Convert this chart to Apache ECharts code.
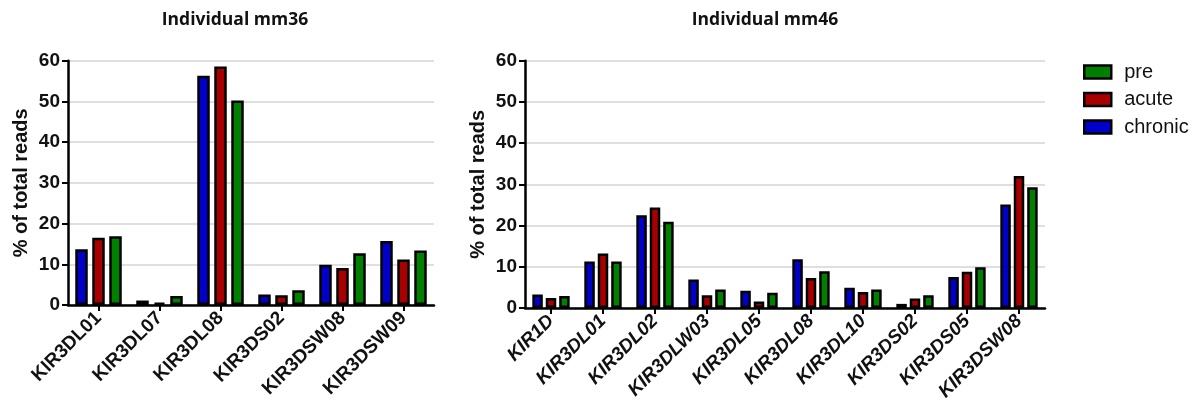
<!DOCTYPE html>
<html>
<head>
<meta charset="utf-8">
<script src="https://cdn.jsdelivr.net/npm/echarts@6/dist/echarts.min.js"></script>
<style>
html,body{margin:0;padding:0;background:#fff;}
#chart{width:1200px;height:405px;}
</style>
</head>
<body>
<div id="chart"></div>
<script>
// ---- data ----
const titleLeft = 'Individual mm36';
const titleRight = 'Individual mm46';
const seriesNames = ['chronic', 'acute', 'pre'];
const legendOrder = ['pre', 'acute', 'chronic'];
const yTicks = [0, 10, 20, 30, 40, 50, 60];

const catsLeft = ['KIR3DL01', 'KIR3DL07', 'KIR3DL08', 'KIR3DS02', 'KIR3DSW08', 'KIR3DSW09'];
const chronicLeft = [13.7, 1.1, 56.3, 2.6, 9.9, 15.7];
const acuteLeft   = [16.5, 0.6, 58.6, 2.4, 9.1, 11.2];
const preLeft     = [16.9, 2.2, 50.2, 3.6, 12.7, 13.4];

const catsRight = ['KIR1D', 'KIR3DL01', 'KIR3DL02', 'KIR3DLW03', 'KIR3DL05', 'KIR3DL08', 'KIR3DL10', 'KIR3DS02', 'KIR3DS05', 'KIR3DSW08'];
const chronicRight = [3.3, 11.3, 22.5, 6.9, 4.2, 11.8, 4.9, 1.0, 7.5, 25.1];
const acuteRight   = [2.4, 13.2, 24.4, 3.1, 1.6, 7.3, 3.9, 2.3, 8.8, 32.0];
const preRight     = [2.9, 11.3, 20.9, 4.5, 3.7, 8.9, 4.5, 3.1, 9.9, 29.3];

// ---- styles ----
const colors = { chronic: '#0000c8', acute: '#a80000', pre: '#008000' };
const FONT = '"Liberation Sans", Arial, sans-serif';

function yAxis(gridIndex) {
  return {
    type: 'value', gridIndex: gridIndex, min: yTicks[0], max: yTicks[yTicks.length - 1], interval: 10,
    name: '% of total reads', nameLocation: 'middle', nameGap: 37,
    nameTextStyle: { fontFamily: FONT, fontSize: 20, fontWeight: 'bold', color: '#111' },
    axisLine: { show: true, lineStyle: { color: '#000', width: 2.5 } },
    axisTick: { show: true, length: 6, lineStyle: { color: '#000', width: 2 } },
    axisLabel: { margin: 8, fontFamily: FONT, fontSize: 19, fontWeight: 'bold', color: '#111' },
    splitLine: { show: true, lineStyle: { color: '#d4d4d4', width: 1.5 } }
  };
}
function xAxis(gridIndex, cats, italic) {
  return {
    type: 'category', gridIndex: gridIndex, data: cats,
    axisLine: { show: true, lineStyle: { color: '#000', width: 2.5 } },
    axisTick: { show: true, alignWithLabel: true, length: 6, lineStyle: { color: '#000', width: 2 } },
    axisLabel: { rotate: 45, interval: 0, margin: 10, fontFamily: FONT, fontSize: 19, fontWeight: 'bold', fontStyle: italic ? 'italic' : 'normal', color: '#111' }
  };
}
function bar(name, data, idx, barWidth, barGap) {
  return {
    name: name, type: 'bar', xAxisIndex: idx, yAxisIndex: idx, data: data,
    barWidth: barWidth, barGap: barGap,
    itemStyle: { color: colors[name], borderColor: '#000', borderWidth: 2.5 },
    emphasis: { disabled: true }
  };
}

const chart = echarts.init(document.getElementById('chart'), null, { renderer: 'canvas' });
chart.setOption({
  backgroundColor: '#fff',
  animation: false,
  title: [
    { text: titleLeft, left: 235, top: 11, textAlign: 'center', padding: 0,
      textStyle: { fontFamily: '"Open Sans", sans-serif', fontSize: 17.5, fontWeight: 'bold', color: '#111' } },
    { text: titleRight, left: 765, top: 11, textAlign: 'center', padding: 0,
      textStyle: { fontFamily: '"Open Sans", sans-serif', fontSize: 17.5, fontWeight: 'bold', color: '#111' } }
  ],
  legend: {
    data: legendOrder, orient: 'vertical', left: 1083, top: 62, padding: 0,
    itemWidth: 27, itemHeight: 13, itemGap: 7.5, icon: 'rect',
    itemStyle: { borderColor: '#000', borderWidth: 2.5 },
    textStyle: { fontFamily: FONT, fontSize: 20, color: '#111', lineHeight: 20, padding: [0, 0, 0, 8] }
  },
  grid: [
    { left: 68, top: 60.7, width: 366, height: 244.3 },
    { left: 525, top: 60.7, width: 520, height: 247.3 }
  ],
  xAxis: [xAxis(0, catsLeft, false), xAxis(1, catsRight, true)],
  yAxis: [yAxis(0), yAxis(1)],
  series: [
    bar('chronic', chronicLeft, 0, 12.5, '36%'),
    bar('acute', acuteLeft, 0, 12.5, '36%'),
    bar('pre', preLeft, 0, 12.5, '36%'),
    bar('chronic', chronicRight, 1, 10.5, '28%'),
    bar('acute', acuteRight, 1, 10.5, '28%'),
    bar('pre', preRight, 1, 10.5, '28%')
  ]
});
</script>
</body>
</html>
